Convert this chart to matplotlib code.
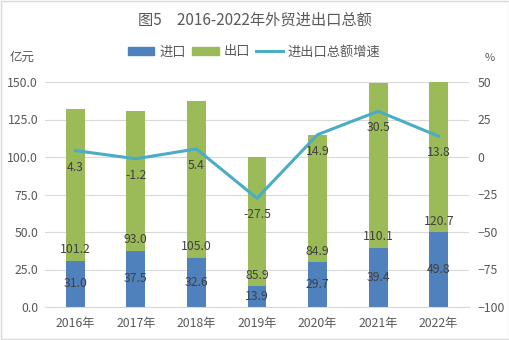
import matplotlib
matplotlib.use("Agg")
import matplotlib.pyplot as plt
from matplotlib.patches import Rectangle, Patch
from matplotlib.lines import Line2D

plt.rcParams['font.family'] = ['Noto Sans CJK SC', 'DejaVu Sans']

years = ['2016年', '2017年', '2018年', '2019年', '2020年', '2021年', '2022年']
imports = [31.0, 37.5, 32.6, 13.9, 29.7, 39.4, 49.8]
exports = [101.2, 93.0, 105.0, 85.9, 84.9, 110.1, 120.7]
growth = [4.3, -1.2, 5.4, -27.5, 14.9, 30.5, 13.8]

blue = '#4F81BD'
green = '#9BBB59'
cyan = '#4BACC6'
txt = '#595959'
lbl = '#404040'
fs = 8.8

fig = plt.figure(figsize=(5.1, 3.4), dpi=100)
ax = fig.add_axes([45/510, 1-307/340, 424/510, 225/340])
ax2 = ax.twinx()

x = list(range(len(years)))
w = 0.31
ax.bar(x, imports, width=w, color=blue, zorder=2)
ax.bar(x, exports, width=w, bottom=imports, color=green, zorder=2)
ax.set_ylim(0, 150)
ax.set_xlim(-0.5, 6.5)
ax.set_yticks([0, 25, 50, 75, 100, 125, 150])
ax.set_yticklabels([f'{v:.1f}' for v in [0, 25, 50, 75, 100, 125, 150]])
ax.set_xticks(x)
ax.set_xticklabels(years)
ax.grid(axis='y', color='#D9D9D9', linewidth=0.8, zorder=0)
ax.set_axisbelow(True)
for s in ['top', 'right', 'left']:
    ax.spines[s].set_visible(False)
ax.spines['bottom'].set_color('#D9D9D9')
ax.tick_params(axis='both', length=0, labelsize=fs, colors=txt)
ax.tick_params(axis='x', pad=7)
ax.tick_params(axis='y', pad=5)

for i in x:
    ax.annotate(f'{imports[i]:.1f}', (i, imports[i]/2), ha='center', va='center',
                fontsize=fs, color=lbl, zorder=5)
    ax.annotate(f'{exports[i]:.1f}', (i, min(imports[i], 150)), xytext=(0, 8),
                textcoords='offset points', ha='center', va='center',
                fontsize=fs, color=lbl, zorder=5)

ax2.plot(x, growth, color=cyan, linewidth=2.2, zorder=4)
ax2.set_ylim(-100, 50)
ax2.set_yticks([-100, -75, -50, -25, 0, 25, 50])
for s in ['top', 'right', 'left', 'bottom']:
    ax2.spines[s].set_visible(False)
ax2.tick_params(axis='y', length=0, labelsize=fs, colors=txt, pad=6)
for i in x:
    ax2.annotate(f'{growth[i]:.1f}', (i, growth[i]), xytext=(0, -12),
                 textcoords='offset points', ha='center', va='center',
                 fontsize=fs, color=lbl, zorder=5)

fig.text(0.5, 1-20/340, '图5　2016-2022年外贸进出口总额', ha='center', va='center',
         fontsize=11, color=txt)
fig.text(10/510, 1-57/340, '亿元', ha='left', va='center', fontsize=9, color=txt)
fig.text(490/510, 1-58/340, '%', ha='center', va='center', fontsize=8, color=txt)

handles = [Patch(color=blue, label='进口'), Patch(color=green, label='出口'),
           Line2D([0], [0], color=cyan, linewidth=2.2, label='进出口总额增速')]
leg = fig.legend(handles=handles, loc='center', bbox_to_anchor=(254/510, 1-52/340),
                 ncol=3, frameon=False, fontsize=9.5, handlelength=2.0, handleheight=0.6,
                 columnspacing=0.5, handletextpad=0.35, labelcolor=txt)

fig.patches.append(Rectangle((0.002, 0.002), 0.996, 0.995, transform=fig.transFigure,
                             fill=False, edgecolor='#D9D9D9', linewidth=1))

fig.savefig('out.png', dpi=100)
